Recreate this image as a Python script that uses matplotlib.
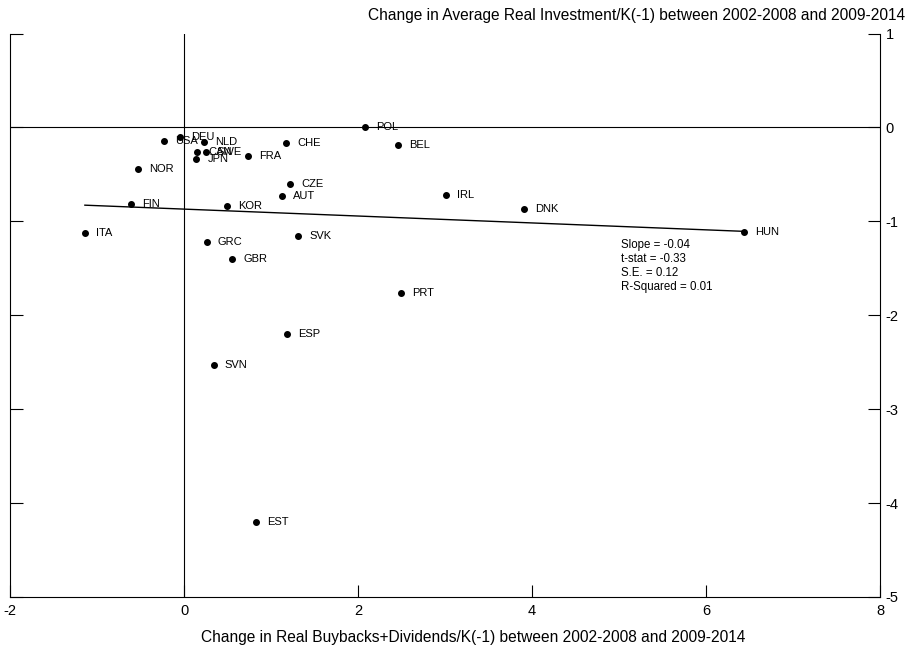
import matplotlib

matplotlib.use("Agg")
import matplotlib.pyplot as plt
import numpy as np

plt.rcParams["font.family"] = ["Liberation Sans", "DejaVu Sans"]
plt.rcParams["axes.unicode_minus"] = False

# Change in buybacks+dividends/K(-1) (x) vs change in investment/K(-1) (y)
countries = ["POL", "BEL", "CHE", "DEU", "USA", "NLD", "CAN", "SWE", "JPN", "FRA",
             "NOR", "CZE", "AUT", "FIN", "KOR", "IRL", "DNK", "HUN", "ITA", "GRC",
             "SVK", "GBR", "PRT", "ESP", "SVN", "EST"]
payout_change = [2.08, 2.46, 1.17, -0.05, -0.23, 0.23, 0.15, 0.25, 0.14, 0.74,
                 -0.53, 1.22, 1.12, -0.61, 0.49, 3.01, 3.91, 6.43, -1.14, 0.26,
                 1.31, 0.55, 2.49, 1.18, 0.34, 0.83]
invest_change = [0.00, -0.19, -0.17, -0.10, -0.14, -0.16, -0.26, -0.26, -0.34, -0.30,
                 -0.44, -0.60, -0.73, -0.82, -0.84, -0.72, -0.87, -1.11, -1.12, -1.22,
                 -1.16, -1.40, -1.76, -2.20, -2.53, -4.20]
stats_lines = ["Slope = -0.04", "t-stat = -0.33", "S.E. = 0.12", "R-Squared = 0.01"]

x = np.array(payout_change)
y = np.array(invest_change)

fig = plt.figure(figsize=(9.14, 6.52), dpi=100)
ax = fig.add_axes([0.011, 0.0844, 0.952, 0.8642])

ax.axhline(0, color="black", linewidth=0.8)
ax.axvline(0, color="black", linewidth=0.8)

ax.plot(x, y, "o", color="black", markersize=4)
for name, xi, yi in zip(countries, x, y):
    ax.annotate(name, (xi, yi), xytext=(8, 0), textcoords="offset points",
                va="center", ha="left", fontsize=8)

slope, intercept = np.polyfit(x, y, 1)
xs = np.array([x.min(), x.max()])
ax.plot(xs, intercept + slope * xs, color="black", linewidth=1.0)

for i, line in enumerate(stats_lines):
    ax.text(0.7023, 0.6247 - i * 0.0248, line, transform=ax.transAxes,
            ha="left", va="center", fontsize=8.3)

ax.set_xlim(-2, 8)
ax.set_ylim(-5, 1)
ax.set_xticks([-2, 0, 2, 4, 6, 8])
ax.set_yticks([-5, -4, -3, -2, -1, 0, 1])
ax.spines["top"].set_visible(False)
for side in ("left", "right", "bottom"):
    ax.spines[side].set_linewidth(0.8)
ax.tick_params(axis="x", direction="in", length=9, labelsize=10.5, pad=5)
ax.tick_params(axis="y", direction="in", length=9, labelsize=10.5,
               left=True, right=True, labelleft=False, labelright=True, pad=4)

fig.text(0.99, 0.976, "Change in Average Real Investment/K(-1) between 2002-2008 and 2009-2014",
         ha="right", va="center", fontsize=11.2)
fig.text(0.518, 0.022, "Change in Real Buybacks+Dividends/K(-1) between 2002-2008 and 2009-2014",
         ha="center", va="center", fontsize=11.2)

fig.savefig("out.png", dpi=100)
